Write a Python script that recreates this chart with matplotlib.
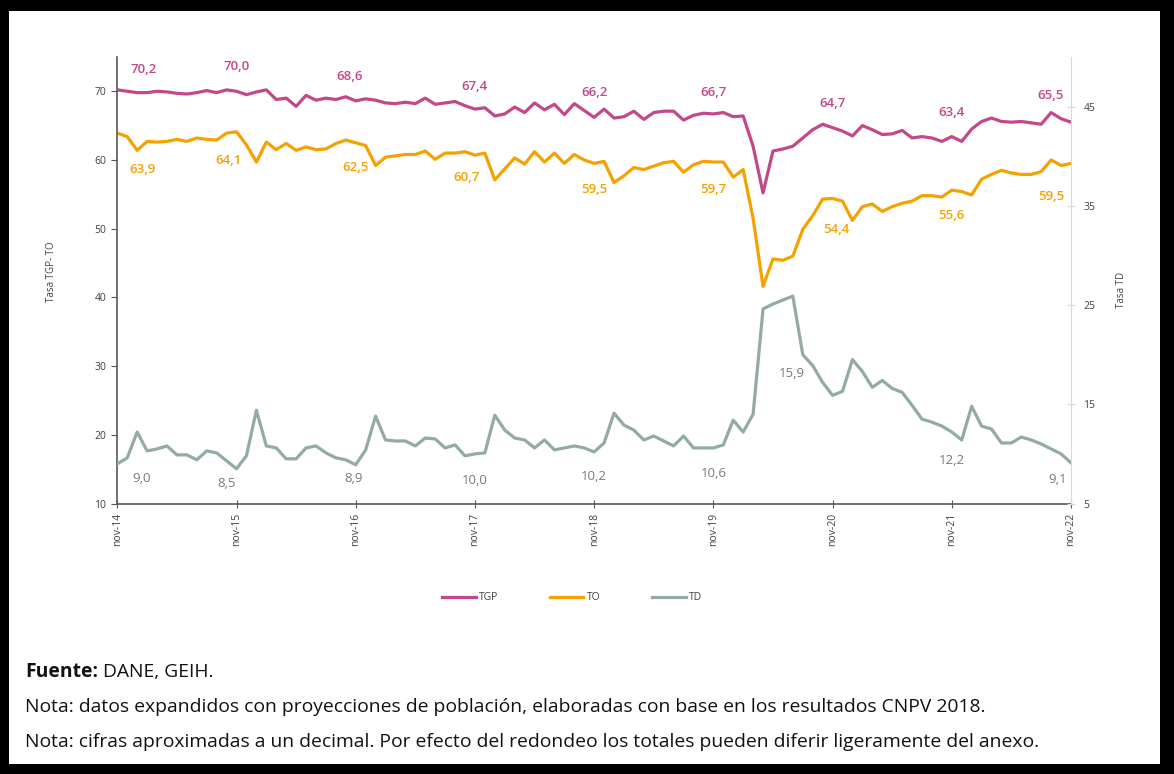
import matplotlib
matplotlib.use("Agg")
import matplotlib.pyplot as plt
from matplotlib.patches import Rectangle
import numpy as np

plt.rcParams['font.family'] = ['Open Sans', 'DejaVu Sans']

# monthly series, nov-14 .. nov-22
tgp = [70.2, 70.0, 69.8, 69.8, 70.0, 69.9, 69.7, 69.6, 69.8, 70.1, 69.8, 70.2,
       70.0, 69.5, 69.9, 70.2, 68.8, 69.0, 67.8, 69.4, 68.7, 69.0, 68.8, 69.2,
       68.6, 68.9, 68.7, 68.3, 68.2, 68.4, 68.2, 69.0, 68.1, 68.3, 68.5, 67.9,
       67.4, 67.6, 66.4, 66.7, 67.7, 66.9, 68.3, 67.3, 68.1, 66.6, 68.2, 67.2,
       66.2, 67.4, 66.1, 66.3, 67.1, 65.9, 66.9, 67.1, 67.1, 65.8, 66.5, 66.8,
       66.7, 66.9, 66.3, 66.4, 62.0, 55.2, 61.3, 61.6, 62.0, 63.2, 64.4, 65.2,
       64.7, 64.2, 63.5, 65.0, 64.4, 63.7, 63.8, 64.3, 63.2, 63.4, 63.2, 62.7,
       63.4, 62.7, 64.5, 65.6, 66.1, 65.6, 65.5, 65.6, 65.4, 65.2, 66.9, 66.0,
       65.5]
to = [63.9, 63.4, 61.4, 62.7, 62.6, 62.7, 63.0, 62.7, 63.2, 63.0, 62.9, 63.9,
      64.1, 62.2, 59.7, 62.6, 61.5, 62.4, 61.4, 61.9, 61.5, 61.6, 62.4, 62.9,
      62.5, 62.1, 59.2, 60.4, 60.6, 60.8, 60.8, 61.3, 60.1, 61.0, 61.0, 61.2,
      60.7, 61.0, 57.1, 58.7, 60.3, 59.4, 61.2, 59.7, 61.0, 59.5, 60.8, 60.0,
      59.5, 59.8, 56.7, 57.7, 58.9, 58.6, 59.1, 59.6, 59.8, 58.2, 59.3, 59.8,
      59.7, 59.7, 57.5, 58.6, 51.5, 41.6, 45.6, 45.4, 46.0, 49.9, 51.9, 54.3,
      54.4, 54.0, 51.2, 53.2, 53.6, 52.5, 53.2, 53.7, 54.0, 54.8, 54.8, 54.6,
      55.6, 55.4, 54.9, 57.2, 57.9, 58.5, 58.1, 57.9, 57.9, 58.3, 60.0, 59.2,
      59.5]
td = [9.0, 9.6, 12.2, 10.3, 10.5, 10.8, 9.9, 9.9, 9.4, 10.3, 10.1, 9.3,
      8.5, 9.8, 14.4, 10.8, 10.6, 9.5, 9.5, 10.6, 10.8, 10.1, 9.6, 9.4,
      8.9, 10.4, 13.8, 11.4, 11.3, 11.3, 10.8, 11.6, 11.5, 10.6, 10.9, 9.8,
      10.0, 10.1, 13.9, 12.4, 11.6, 11.4, 10.6, 11.4, 10.4, 10.6, 10.8, 10.6,
      10.2, 11.1, 14.1, 12.9, 12.4, 11.4, 11.8, 11.3, 10.8, 11.8, 10.6, 10.6,
      10.6, 10.9, 13.4, 12.2, 14.0, 24.6, 25.1, 25.5, 25.9, 20.0, 18.9, 17.2,
      15.9, 16.3, 19.5, 18.3, 16.7, 17.4, 16.6, 16.2, 14.9, 13.5, 13.2, 12.8,
      12.2, 11.4, 14.8, 12.8, 12.5, 11.1, 11.1, 11.7, 11.4, 11.0, 10.5, 10.0,
      9.1]
tick_labels = ['nov-14', 'nov-15', 'nov-16', 'nov-17', 'nov-18', 'nov-19',
               'nov-20', 'nov-21', 'nov-22']
series_names = ['TGP', 'TO', 'TD']

c_tgp = '#c4478a'
c_to = '#f5a100'
c_td = '#93aaa7'
grey = '#404040'

W, H = 1174, 774
fig = plt.figure(figsize=(W / 100, H / 100), dpi=100)
fig.patch.set_facecolor('black')
fig.add_artist(Rectangle((9 / W, 10 / H), 1151 / W, 753 / H,
                         transform=fig.transFigure, facecolor='white',
                         edgecolor='none', zorder=-5))

ax = fig.add_axes([117.3 / W, 1 - 503.5 / H, (1071 - 117.3) / W, 446.6 / H])
ax.set_facecolor('none')
ax2 = ax.twinx()

x = np.arange(len(tgp))
l1, = ax.plot(x, tgp, color=c_tgp, lw=2.3, solid_joinstyle='round')
l2, = ax.plot(x, to, color=c_to, lw=2.3, solid_joinstyle='round')
l3, = ax2.plot(x, td, color=c_td, lw=2.3, solid_joinstyle='round')

ax.set_xlim(0, len(tgp) - 1)
ax.set_ylim(10, 75)
ax.set_yticks(range(10, 71, 10))
ax2.set_ylim(5, 50)
ax2.set_yticks(range(5, 46, 10))
ticks = np.arange(0, len(tgp), 12)
ax.set_xticks(ticks)
ax.set_xticklabels(tick_labels, rotation=90, fontsize=7.5, color=grey)

for a in (ax, ax2):
    a.spines['top'].set_visible(False)
ax.spines['right'].set_visible(False)
ax2.spines['left'].set_visible(False)
ax2.spines['bottom'].set_visible(False)
ax.spines['left'].set_color('#595959')
ax.spines['bottom'].set_color('#595959')
ax.spines['left'].set_linewidth(1.2)
ax.spines['bottom'].set_linewidth(1.2)
ax2.spines['right'].set_color('#d9d9d9')

ax.tick_params(axis='y', direction='out', length=4, color='#595959',
               labelsize=7.5, labelcolor=grey, pad=4)
ax.tick_params(axis='x', direction='inout', length=6, color='#595959', pad=4)
ax2.tick_params(axis='y', direction='inout', length=6, color='#d9d9d9',
                labelsize=7.5, labelcolor=grey, pad=6)

# data labels on each november
tgp_off = [(26, 20), (0, 25), (-6, 24), (0, 23), (0, 25), (0, 21), (0, 24), (0, 24), (-20, 27)]
to_off = [(25, -36), (-8, -29), (0, -25), (-8, -22), (0, -26), (0, -27), (4, -31), (0, -25), (-20, -33)]
td_off = [(24, -15), (-10, -15), (-2, -14), (0, -27), (0, -25), (0, -26), (-41, 22), (0, -28), (-13, -17)]


def fmt(v):
    return f"{v:.1f}".replace('.', ',')


for k, i in enumerate(ticks):
    ax.annotate(fmt(tgp[i]), (i, tgp[i]), xytext=tgp_off[k], textcoords='offset pixels',
                ha='center', va='center', color=c_tgp, fontsize=9.5, fontweight='semibold',
                annotation_clip=False)
    ax.annotate(fmt(to[i]), (i, to[i]), xytext=to_off[k], textcoords='offset pixels',
                ha='center', va='center', color=c_to, fontsize=9.5, fontweight='semibold',
                annotation_clip=False)
    ax2.annotate(fmt(td[i]), (i, td[i]), xytext=td_off[k], textcoords='offset pixels',
                 ha='center', va='center', color='#7a7a7a', fontsize=9.5,
                 annotation_clip=False)

fig.text(52 / W, 1 - 272 / H, 'Tasa TGP- TO', rotation=90, ha='center', va='center',
         fontsize=7, color=grey)
fig.text(1122 / W, 1 - 290 / H, 'Tasa TD', rotation=90, ha='center', va='center',
         fontsize=7, color=grey)

fig.legend([l1, l2, l3], series_names, loc='center', bbox_to_anchor=(572 / W, 1 - 598 / H),
           ncol=3, frameon=False, fontsize=7.5, handlelength=3.2, columnspacing=5,
           handletextpad=0.3, labelcolor=grey)

fs = 13.9
t1 = fig.text(25 / W, 1 - 672 / H, 'Fuente:', fontsize=fs, fontweight='bold',
              va='center', ha='left', color='#111111')
ax.annotate(' DANE, GEIH.', xy=(1, 0.5), xycoords=t1, va='center', ha='left',
            fontsize=fs, color='#111111', annotation_clip=False)
fig.text(25 / W, 1 - 707 / H,
         'Nota: datos expandidos con proyecciones de población, elaboradas con base en los resultados CNPV 2018.',
         fontsize=fs, va='center', ha='left', color='#111111')
fig.text(25 / W, 1 - 742 / H,
         'Nota: cifras aproximadas a un decimal. Por efecto del redondeo los totales pueden diferir ligeramente del anexo.',
         fontsize=fs, va='center', ha='left', color='#111111')

fig.savefig('out.png', dpi=100)
